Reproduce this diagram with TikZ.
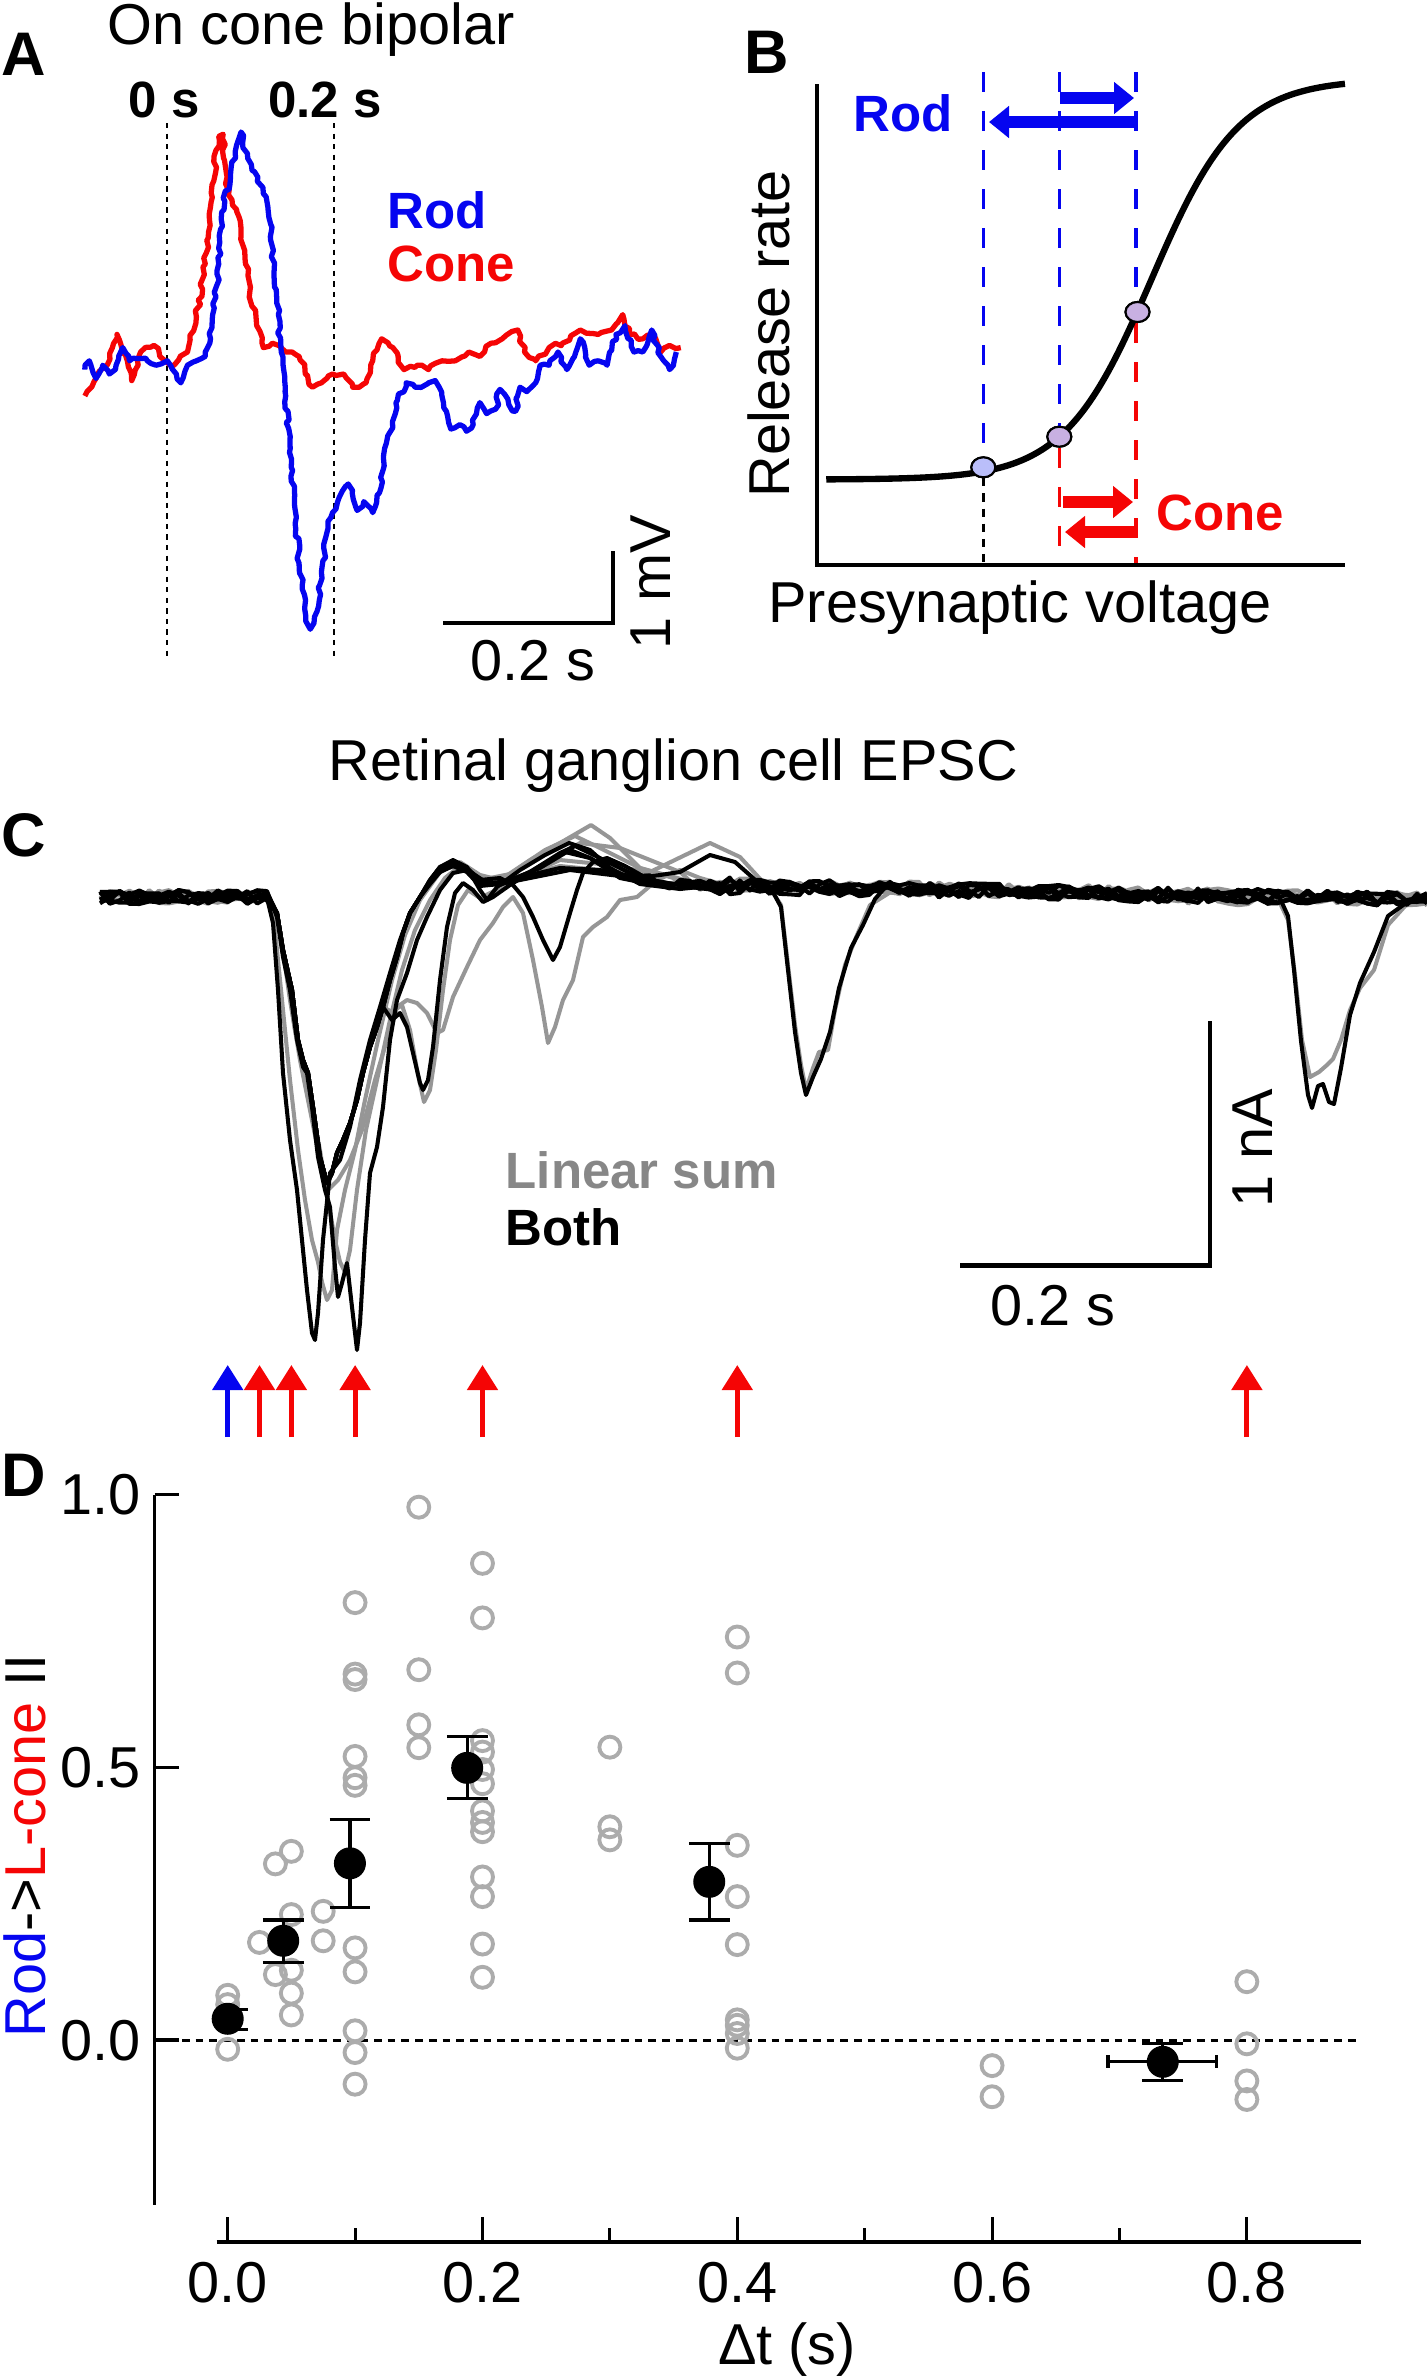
\documentclass[tikz,border=0pt]{standalone}
\usepackage{fontspec}
\setmainfont{Liberation Sans}
\usetikzlibrary{arrows.meta,shapes.geometric,decorations.pathmorphing,calc,positioning}
\definecolor{rodblue}{RGB}{5,5,240}
\definecolor{conered}{RGB}{245,5,5}
\definecolor{sumgray}{RGB}{150,150,150}
\definecolor{ptgray}{RGB}{172,172,172}
\definecolor{lowdot}{RGB}{186,190,250}
\definecolor{highdot}{RGB}{200,176,226}
\newcommand\ftxt{\fontsize{16.4}{19}\selectfont}
\newcommand\fbold{\bfseries\fontsize{14.5}{17}\selectfont}
\newcommand\fpanel{\bfseries\fontsize{17.5}{21}\selectfont}
% rod response shared by several EPSC traces
\def\rodenv{plot[domain=100:267, samples=18] (\x,{897+7*rand}) -- (277,913) -- (283,950) -- (292,990) -- (298,1040) -- (303,1060) -- (308,1073) -- (313,1107) -- (320,1157) -- (327,1183) -- (332,1173) -- (337,1153) -- (343,1140) -- (350,1123) -- (357,1100) -- (363,1073) -- (370,1047) -- (377,1027) -- (383,1007)}
\def\early{plot[domain=100:267, samples=18] (\x,{897+7*rand})}

\begin{document}
\begin{tikzpicture}[x=0.01cm, y=-0.01cm,
  lab/.style={inner sep=0pt, font=\ftxt, anchor=base},
  blab/.style={inner sep=0pt, font=\fbold, anchor=base west},
  panel/.style={inner sep=0pt, font=\fpanel, anchor=base},
  trace/.style={line width=1.5pt, line join=round, decorate,
    decoration={random steps, segment length=1.6pt, amplitude=0.6pt}},
  epsc/.style={line width=1.15pt, line join=round},
  dotline/.style={line width=0.8pt, dash pattern=on 1.5pt off 1.5pt},
  vdash/.style={line width=1pt, dash pattern=on 0.2cm off 0.19cm},
  bar/.style={line width=1.2pt},
  axis/.style={line width=0.9pt},
  fat/.style={line width=0.115cm, -{Triangle[length=0.2cm, width=0.31cm]}},
  stim/.style={line width=1.4pt, -{Triangle[length=0.25cm, width=0.3cm]}},
  vdot/.style={ellipse, draw, line width=0.6pt, minimum width=0.24cm, minimum height=0.2cm, inner sep=0pt},
  open/.style={circle, draw=ptgray, line width=1.1pt, minimum size=0.21cm, inner sep=0pt},
  mean/.style={circle, fill, minimum size=0.32cm, inner sep=0pt},
  ebar/.style={line width=0.9pt}]
\useasboundingbox (0,0) rectangle (1427,2378);
\pgfmathsetseed{7}

%% A
\node[panel] (pA) at (24,75) {A};
\node[lab] (tA) at (311,44) {On cone bipolar};
\node[panel, font=\fbold] (t0) at (164,117) {0 s};
\node[panel, font=\fbold] (t2) at (325,117) {0.2 s};
\draw[dotline] (167,123) -- (167,656);
\draw[dotline] (334,123) -- (334,656);
\begin{scope}[xscale=0.4464, yscale=0.44]
\draw[trace, conered] (190,900) -- (215,860) -- (240,830) -- (262,760) -- (275,800) -- (295,865) -- (315,800) -- (345,785) -- (370,820) -- (390,830) -- (420,800) -- (440,720) -- (460,600) -- (475,420) -- (490,310) -- (500,305) -- (510,440) -- (530,480) -- (545,560) -- (560,660) -- (575,740) -- (590,790) -- (610,780) -- (640,800) -- (670,810) -- (700,880) -- (720,870) -- (745,850) -- (770,850) -- (790,880) -- (820,870) -- (835,820) -- (855,770) -- (880,790) -- (905,840) -- (935,830) -- (960,840) -- (990,820) -- (1020,820) -- (1050,800) -- (1075,810) -- (1100,780) -- (1125,770) -- (1160,750) -- (1175,800) -- (1200,820) -- (1230,790) -- (1260,780) -- (1300,750) -- (1340,760) -- (1370,750) -- (1395,715) -- (1410,760) -- (1440,770) -- (1460,760) -- (1480,800) -- (1500,785) -- (1525,790);
\draw[trace, rodblue] (190,840) -- (200,820) -- (215,860) -- (230,830) -- (245,850) -- (260,830) -- (275,790) -- (290,820) -- (310,815) -- (330,820) -- (350,830) -- (375,820) -- (395,850) -- (405,870) -- (420,830) -- (440,820) -- (460,810) -- (470,780) -- (480,700) -- (490,600) -- (500,450) -- (515,420) -- (530,330) -- (540,300) -- (555,360) -- (570,390) -- (590,440) -- (600,470) -- (610,560) -- (620,680) -- (630,800) -- (640,900) -- (650,1020) -- (660,1150) -- (670,1280) -- (685,1400) -- (695,1430) -- (710,1390) -- (720,1300) -- (735,1200) -- (745,1165) -- (760,1130) -- (780,1100) -- (800,1160) -- (815,1140) -- (835,1165) -- (850,1120) -- (860,1030) -- (875,980) -- (890,910) -- (910,870) -- (930,880) -- (960,870) -- (975,865) -- (990,900) -- (1000,935) -- (1010,975) -- (1030,965) -- (1045,980) -- (1060,965) -- (1075,915) -- (1090,940) -- (1110,930) -- (1120,885) -- (1140,920) -- (1155,935) -- (1165,880) -- (1180,890) -- (1200,870) -- (1210,830) -- (1230,830) -- (1250,800) -- (1270,840) -- (1290,800) -- (1300,770) -- (1310,790) -- (1320,830) -- (1340,820) -- (1360,830) -- (1380,760) -- (1400,740) -- (1420,800) -- (1440,800) -- (1460,750) -- (1480,810) -- (1500,840) -- (1515,800);
\end{scope}
\node[blab, text=rodblue] (rA) at (387,228) {Rod};
\node[blab, text=conered] (cA) at ($(rA.base west)+(0,53)$) {Cone};
\draw[bar] (443,623) -- (612.7,623) -- (612.7,550.7);
\node[lab] (sA) at (533,680) {0.2 s};
\node[lab, rotate=90] (vA) at (670,582) {1 mV};

%% B
\node[panel] (pB) at (767,73) {B};
\coordinate (top) at (0,72);
\coordinate (bot) at (0,565);
\node[vdot, fill=lowdot] (e1) at (983.3,467.3) {};
\node[vdot, fill=highdot] (e2) at (1059.3,436.7) {};
\node[vdot, fill=highdot] (e3) at (1137.5,312) {};
\draw[vdash, rodblue] (e1 |- top) -- (e1.north);
\draw[vdash, rodblue] (e2 |- top) -- (e2.north);
\draw[vdash, rodblue] (1136,72) -- (1136,300);
\draw[dotline, dash pattern=on 2.3pt off 2pt, line width=1pt] (e1.south) -- (e1 |- bot);
\draw[vdash, conered] (e2.south) -- (e2 |- bot);
\draw[vdash, conered] (1136,323) -- (1136,565);
\begin{scope}[shift={(720,0)}, xscale=0.4464, yscale=0.44]
\draw[line width=1.8pt] plot[domain=238:1400, samples=90, smooth] (\x, {1090-910/(1+exp(-(\x-966.5)/97.4))});
\end{scope}
\node[vdot, fill=lowdot] at (e1) {};
\node[vdot, fill=highdot] at (e2) {};
\node[vdot, fill=highdot] at (e3) {};
\draw[axis, line width=1pt] (817,84) -- (817,565) -- (1345,565);
\draw[fat, rodblue] (1060,98) -- (1134,98);
\draw[fat, rodblue] (1136,122) -- (989,122);
\draw[fat, conered] (1063,502) -- (1133,502);
\draw[fat, conered] (1136,532) -- (1065,532);
\node[panel, font=\fbold, text=rodblue] (rB) at (903.5,131) {Rod};
\node[panel, font=\fbold, text=conered] (cB) at (1220.6,530) {Cone};
\node[lab, rotate=90] (yB) at (789,334) {Release rate};
\node[lab] (xB) at (1020,622) {Presynaptic voltage};

%% C
\node[lab] (tC) at (673.4,780) {Retinal ganglion cell EPSC};
\node[panel] (pC) at (24,856) {C};
\begin{scope}[sumgray]
\draw[epsc] \early -- (275,930) -- (282,1000) -- (290,1080) -- (298,1150) -- (305,1200) -- (312,1240) -- (318,1262) -- (322,1282) -- (327,1300) -- (332,1290) -- (337,1230) -- (345,1190) -- (355,1150) -- (365,1100) -- (378,1040) -- (392,980) -- (405,935) -- (420,900) -- (440,872) -- (460,862) -- (480,875) -- (500,880) -- (530,860) -- (560,843) -- (591,825) -- (610,838) -- (640,868) -- (700,886) -- plot[domain=720:1427, samples=72] (\x,{885+0.02*(\x-720)+7*rand});
\draw[epsc] \early -- (278,920) -- (286,970) -- (295,1030) -- (303,1070) -- (312,1110) -- (320,1150) -- (328,1200) -- (335,1240) -- (340,1262) -- (345,1272) -- (350,1250) -- (357,1190) -- (366,1130) -- (377,1080) -- (390,1020) -- (402,970) -- (415,930) -- (430,900) -- (445,878) -- (460,866) -- (480,880) -- (510,874) -- (545,850) -- (575,836) -- (600,848) -- (640,868) -- (700,884) -- plot[domain=720:1427, samples=72] (\x,{885+0.02*(\x-720)+7*rand});
\draw[epsc] \rodenv -- (392,1012) -- (402,1005) -- (410,1030) -- (418,1075) -- (424,1102) -- (430,1090) -- (436,1050) -- (443,990) -- (450,940) -- (458,905) -- (468,890) -- (480,898) -- (500,888) -- (540,866) -- (580,843) -- (620,848) -- (680,872) -- plot[domain=700:1427, samples=74] (\x,{884+0.022*(\x-700)+7*rand});
\draw[epsc] \early -- (280,930) -- (290,1000) -- (300,1060) -- (310,1110) -- (320,1160) -- (328,1190) -- (338,1180) -- (350,1160) -- (362,1130) -- (375,1080) -- (387,1040) -- (397,1007) -- (407,1000) -- (417,1003) -- (427,1013) -- (437,1033) -- (443,1030) -- (453,997) -- (467,967) -- (480,940) -- (493,923) -- (503,907) -- (513,897) -- (523,913) -- (533,960) -- (542,1007) -- (548,1043) -- (555,1027) -- (563,1000) -- (573,980) -- (583,937) -- (593,927) -- (607,917) -- (620,900) -- (637,897) -- (657,880) -- (680,870) -- (700,878) -- plot[domain=720:1427, samples=72] (\x,{885+0.02*(\x-720)+7*rand});
\draw[epsc] \rodenv -- (390,980) -- (400,945) -- (410,915) -- (420,898) -- (430,882) -- (440,870) -- (455,862) -- (470,872) -- (490,884) -- (520,878) -- (560,860) -- (600,864) -- (650,872) -- (710,843) -- (740,857) -- (773,893) -- (781,905) -- (788,965) -- (795,1025) -- (801,1065) -- (806,1090) -- (813,1068) -- (819,1052) -- (828,1050) -- (835,1010) -- (845,965) -- (857,935) -- (870,905) -- plot[domain=890:1427, samples=55] (\x,{888+0.021*(\x-890)+7*rand});
\draw[epsc] \rodenv -- (390,980) -- (400,945) -- (410,915) -- (420,898) -- (432,880) -- (445,868) -- (460,866) -- (480,884) -- (510,880) -- (560,866) -- (620,872) -- plot[domain=650:1278, samples=64] (\x,{882+0.028*(\x-650)+7*rand}) -- (1288,920) -- (1295,975) -- (1302,1040) -- (1310,1077) -- (1319,1072) -- (1327,1065) -- (1333,1059) -- (1341,1040) -- (1350,1010) -- (1360,988) -- (1374,970) -- (1388,925) -- (1406,905) -- (1427,900);
\end{scope}
\draw[epsc] \early -- (273,923) -- (278,990) -- (283,1073) -- (290,1140) -- (297,1190) -- (302,1240) -- (307,1290) -- (312,1333) -- (315,1340) -- (318,1313) -- (323,1240) -- (330,1173) -- (340,1160) -- (350,1127) -- (360,1080) -- (370,1040) -- (380,1007) -- (390,973) -- (400,940) -- (410,913) -- (420,897) -- (433,877) -- (447,867) -- (460,865) -- (475,875) -- (490,885) -- (510,880) -- (540,868) -- (570,850) -- (590,858) -- (620,878) -- (660,886) -- plot[domain=700:1427, samples=74] (\x,{886+0.019*(\x-700)+7*rand});
\draw[epsc] \early -- (277,917) -- (283,957) -- (290,990) -- (297,1040) -- (303,1067) -- (307,1073) -- (312,1107) -- (318,1157) -- (325,1190) -- (330,1207) -- (335,1267) -- (338,1297) -- (342,1283) -- (347,1263) -- (352,1307) -- (357,1350) -- (360,1323) -- (365,1240) -- (370,1173) -- (377,1147) -- (383,1107) -- (390,1040) -- (397,1000) -- (407,973) -- (417,940) -- (427,917) -- (440,890) -- (453,873) -- (467,870) -- (480,880) -- (500,885) -- (530,872) -- (560,853) -- (575,846) -- (600,858) -- (640,878) -- (690,887) -- plot[domain=720:1427, samples=72] (\x,{887+0.018*(\x-720)+7*rand});
\draw[epsc] \rodenv -- (390,980) -- (397,957) -- (403,933) -- (410,913) -- (420,897) -- (430,880) -- (440,867) -- (453,860) -- (467,867) -- (480,890) -- (487,900) -- (497,887) -- (520,870) -- (545,855) -- (569,843) -- (590,850) -- (610,868) -- (640,884) -- (680,889) -- plot[domain=700:1427, samples=74] (\x,{887+0.018*(\x-700)+7*rand});
\draw[epsc] \rodenv -- (392,1020) -- (400,1013) -- (407,1027) -- (413,1053) -- (420,1083) -- (423,1090) -- (428,1080) -- (433,1047) -- (440,980) -- (447,927) -- (455,893) -- (463,883) -- (473,890) -- (483,902) -- (493,897) -- (510,885) -- (540,866) -- (565,852) -- (590,858) -- (620,874) -- (660,884) -- plot[domain=700:1427, samples=74] (\x,{885+0.02*(\x-700)+7*rand});
\draw[epsc] \rodenv -- (390,980) -- (397,957) -- (403,933) -- (410,913) -- (420,897) -- (430,880) -- (440,867) -- (453,862) -- (467,868) -- (480,880) -- (500,878) -- (513,885) -- (523,897) -- (533,917) -- (543,940) -- (553,960) -- (560,947) -- (570,913) -- (577,890) -- (583,873) -- (593,862) -- (607,858) -- (625,866) -- (650,880) -- (690,887) -- plot[domain=720:1427, samples=72] (\x,{885+0.02*(\x-720)+7*rand});
\draw[epsc] \rodenv -- (390,980) -- (397,957) -- (403,933) -- (410,913) -- (420,897) -- (430,882) -- (440,870) -- (453,863) -- (467,870) -- (480,884) -- (500,882) -- (530,875) -- (560,868) -- (600,870) -- (640,878) -- (680,872) -- (710,855) -- (735,862) -- (760,884) -- (773,892) -- (781,907) -- (788,970) -- (795,1032) -- (801,1073) -- (806,1095) -- (813,1077) -- (821,1059) -- (830,1032) -- (839,988) -- (851,948) -- (863,925) -- (875,899) -- plot[domain=890:1427, samples=55] (\x,{888+0.021*(\x-890)+7*rand});
\draw[epsc] \rodenv -- (390,980) -- (397,957) -- (403,933) -- (410,913) -- (420,897) -- (430,884) -- (440,872) -- (453,866) -- (467,872) -- (480,886) -- (500,884) -- (530,878) -- (570,870) -- (620,876) -- plot[domain=650:1278, samples=64] (\x,{882+0.029*(\x-650)+7*rand}) -- (1288,916) -- (1294,970) -- (1301,1041) -- (1308,1095) -- (1312,1108) -- (1318,1086) -- (1323,1084) -- (1329,1102) -- (1334,1104) -- (1341,1068) -- (1350,1015) -- (1360,983) -- (1374,952) -- (1388,916) -- (1406,903) -- (1427,899);
\node[blab, text=sumgray!90!black] (lsum) at (505,1188) {Linear sum};
\node[blab] (both) at ($(lsum.base west)+(0,57)$) {Both};
\draw[bar] (960,1265.5) -- (1210,1265.5) -- (1210,1021);
\node[lab] (sC) at (1053,1325) {0.2 s};
\node[lab, rotate=90] (vC) at (1272,1148) {1 nA};
\draw[stim, rodblue] (227.7,1437) -- (227.7,1365);
\foreach \t in {0.025,0.05,0.1,0.2,0.4,0.8}
  \draw[stim, conered] ({227.7+1274*\t},1437) -- ({227.7+1274*\t},1365);

%% D
\node[panel] (pD) at (24,1496) {D};
\draw[axis] (154.6,1494.8) -- (154.6,2205);
\foreach \v/\l [count=\i] in {1/1.0,0.5/0.5,0/0.0} {
  \draw[axis] (154.6,{2040-545.4*\v}) -- (179,{2040-545.4*\v});
  \node[lab, anchor=base east] (yt\i) at (141,{2060-545.4*\v}) {\l};
}
\draw[axis] (216.6,2242) -- (1360.5,2242);
\foreach \t in {1,3,5,7}
  \draw[axis] ({227.7+127.4*\t},2242) -- ({227.7+127.4*\t},2228);
\foreach \t/\l [count=\i] in {0/0.0,2/0.2,4/0.4,6/0.6,8/0.8} {
  \draw[axis] ({227.7+127.4*\t},2242) -- ({227.7+127.4*\t},2217);
  \node[lab] (xt\i) at ({227.7+127.4*\t},2302) {\l};
}
\node[lab] (xD) at (787,2364) {Δt (s)};
\node[lab, rotate=90] (yD) at (45,1846) {{\color{rodblue}Rod}->{\color{conered}L-cone} II};
\draw[line width=0.85pt, dash pattern=on 2.2pt off 1.7pt] (182,2040) -- (1360,2040);
\begin{scope}[shift={(227.7,2040)}, xscale=1274, yscale=-545.4]
\foreach \x/\y [count=\i] in {0/0.082,0/0.065,0/-0.017,0.025/0.179,0.0375/0.323,0.0375/0.12,
  0.05/0.346,0.05/0.23,0.05/0.128,0.05/0.086,0.05/0.046,0.075/0.236,0.075/0.182,
  0.1/0.802,0.1/0.671,0.1/0.661,0.1/0.52,0.1/0.481,0.1/0.467,0.1/0.169,0.1/0.125,0.1/0.017,0.1/-0.023,0.1/-0.081,
  0.15/0.977,0.15/0.679,0.15/0.578,0.15/0.536,
  0.2/0.874,0.2/0.774,0.2/0.549,0.2/0.528,0.2/0.496,0.2/0.47,0.2/0.42,0.2/0.399,0.2/0.382,0.2/0.299,0.2/0.263,0.2/0.176,0.2/0.115,
  0.3/0.537,0.3/0.391,0.3/0.367,
  0.4/0.739,0.4/0.673,0.4/0.357,0.4/0.263,0.4/0.175,0.4/0.037,0.4/0.027,0.4/0.012,0.4/-0.015,
  0.6/-0.047,0.6/-0.104,
  0.8/0.107,0.8/-0.007,0.8/-0.075,0.8/-0.109}
  \node[open] (g\i) at (\x,\y) {};
\foreach \x/\lo/\hi in {0.0436/0.142/0.220,0.096/0.243/0.405,0.188/0.443/0.557,0.378/0.220/0.361,0.734/-0.074/-0.007} {
  \draw[ebar] (\x,\lo) -- (\x,\hi);
  \draw[ebar] ({\x-0.016},\lo) -- ({\x+0.016},\lo);
  \draw[ebar] ({\x-0.016},\hi) -- ({\x+0.016},\hi);
}
\draw[ebar] (0,0.019) -- (0,0.056);
\draw[ebar] (0,0.019) -- (0.016,0.019);
\draw[ebar] (0,0.056) -- (0.016,0.056);
\draw[ebar] (0.691,-0.04) -- (0.776,-0.04);
\draw[ebar] (0.691,-0.028) -- (0.691,-0.052);
\draw[ebar] (0.776,-0.028) -- (0.776,-0.052);
\foreach \x/\y [count=\i] in {0/0.039,0.0436/0.182,0.096/0.324,0.188/0.499,0.378/0.29,0.734/-0.04}
  \node[mean] (m\i) at (\x,\y) {};
\end{scope}
\end{tikzpicture}
\end{document}
